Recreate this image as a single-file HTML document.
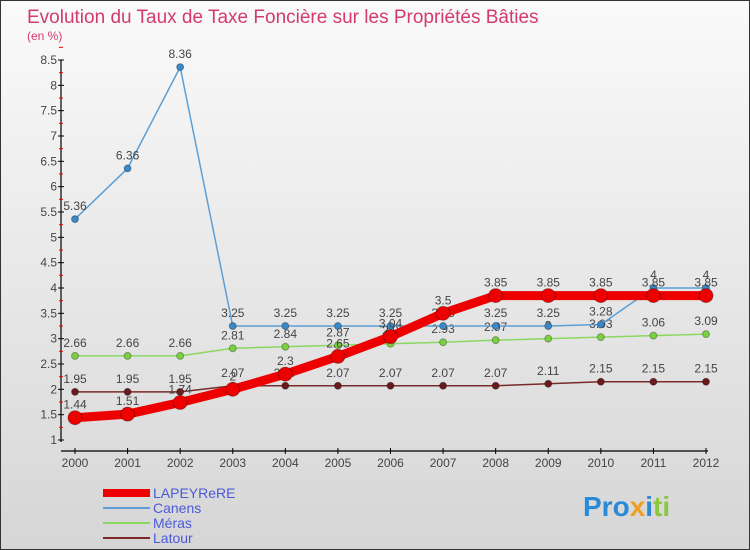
<!DOCTYPE html>
<html><head><meta charset="utf-8"><style>
body{margin:0;width:750px;height:550px;overflow:hidden;font-family:"Liberation Sans",sans-serif}
#wrap{position:absolute;left:0;top:0;width:748px;height:548px;border:1px solid #333;background:linear-gradient(#fafafa,#d6d6d6)}
</style></head><body>
<div id="wrap">
<svg id="chart" width="750" height="550" style="position:absolute;left:-1px;top:-1px">
<text x="27" y="23" font-size="19" fill="#d23a70">Evolution du Taux de Taxe Foncière sur les Propriétés Bâties</text>
<text x="27" y="40" font-size="12" fill="#d23a70">(en %)</text>
<g id="axes"></g><g id="series"></g>
<g>
<line x1="103" y1="493" x2="150" y2="493" stroke="#e00" stroke-width="8"/>
<text x="153" y="498" font-size="14" fill="#4a5ad8">LAPEYReRE</text>
<line x1="103" y1="508" x2="150" y2="508" stroke="#5b9fd6" stroke-width="2"/>
<text x="153" y="513" font-size="14" fill="#4a5ad8">Canens</text>
<line x1="103" y1="523" x2="150" y2="523" stroke="#8ad860" stroke-width="2"/>
<text x="153" y="528" font-size="14" fill="#4a5ad8">Méras</text>
<line x1="103" y1="538" x2="150" y2="538" stroke="#7a2a2a" stroke-width="2"/>
<text x="153" y="543" font-size="14" fill="#4a5ad8">Latour</text>
</g>
<text x="583" y="516" font-size="28" font-weight="bold"><tspan fill="#2a8ad8">Pro</tspan><tspan fill="#f0a020">x</tspan><tspan fill="#2a8ad8">i</tspan><tspan fill="#8ac840">ti</tspan></text>
</svg>
</div>
<script>
const years=[2000,2001,2002,2003,2004,2005,2006,2007,2008,2009,2010,2011,2012];
const yTicks=[1,1.5,2,2.5,3,3.5,4,4.5,5,5.5,6,6.5,7,7.5,8,8.5];
const lapeyrere=[1.44,1.51,1.74,2,2.3,2.65,3.04,3.5,3.85,3.85,3.85,3.85,3.85];
const canens=[5.36,6.36,8.36,3.25,3.25,3.25,3.25,3.25,3.25,3.25,3.28,4,4];
const meras=[2.66,2.66,2.66,2.81,2.84,2.87,2.9,2.93,2.97,3,3.03,3.06,3.09];
const latour=[1.95,1.95,1.95,2.07,2.07,2.07,2.07,2.07,2.07,2.11,2.15,2.15,2.15];
const NS='http://www.w3.org/2000/svg';
const xs=i=>75+i*(706-75)/(years.length-1);
const ys=v=>440-(v-1)*(380/7.5);
function mk(t,a,p){const e=document.createElementNS(NS,t);for(const k in a)e.setAttribute(k,a[k]);p.appendChild(e);return e;}
const ax=document.getElementById('axes');
mk('line',{x1:61,y1:ys(8.5),x2:61,y2:ys(1)+2,stroke:'#000','stroke-width':1.2},ax);
mk('line',{x1:61,y1:451,x2:708,y2:451,stroke:'#000','stroke-width':1.2},ax);
yTicks.forEach(v=>{
 mk('line',{x1:58,y1:ys(v),x2:64,y2:ys(v),stroke:'#000'},ax);
 mk('line',{x1:59,y1:ys(v+0.25),x2:63,y2:ys(v+0.25),stroke:'#e00'},ax);
 const t=mk('text',{x:57,y:ys(v)+4,'font-size':12,fill:'#444','text-anchor':'end'},ax);
 
 
 t.textContent=v;
});
years.forEach((y,i)=>{
 mk('line',{x1:xs(i),y1:448,x2:xs(i),y2:454,stroke:'#000'},ax);
 const t=mk('text',{x:xs(i),y:467,'font-size':12,fill:'#444','text-anchor':'middle'},ax);
 
 
 t.textContent=y;
});
const sg=document.getElementById('series');
function draw(name,vals,col,w,r,dot){
 const g=mk('g',{},sg);
 
 
 mk('polyline',{points:vals.map((v,i)=>xs(i)+','+ys(v)).join(' '),fill:'none',stroke:col,'stroke-width':w},g);
 vals.forEach((v,i)=>{
  const c=mk('circle',{cx:xs(i),cy:ys(v),r:r,fill:dot,stroke:'rgba(0,0,0,0.3)'},g);
  
  
  const t=mk('text',{x:xs(i),y:ys(v)-9,'font-size':12,fill:'#444','text-anchor':'middle'},g);
  
  
  t.textContent=v;
 });
}
draw('latour',latour,'#7a2a2a',1.5,3.5,'#6a1a1a');
draw('meras',meras,'#8ad860',1.5,3.5,'#7ad040');
draw('canens',canens,'#5b9fd6',1.5,3.5,'#3a88c8');
draw('lapeyrere',lapeyrere,'#e00',9,7,'#e00');
</script>
</body></html>
